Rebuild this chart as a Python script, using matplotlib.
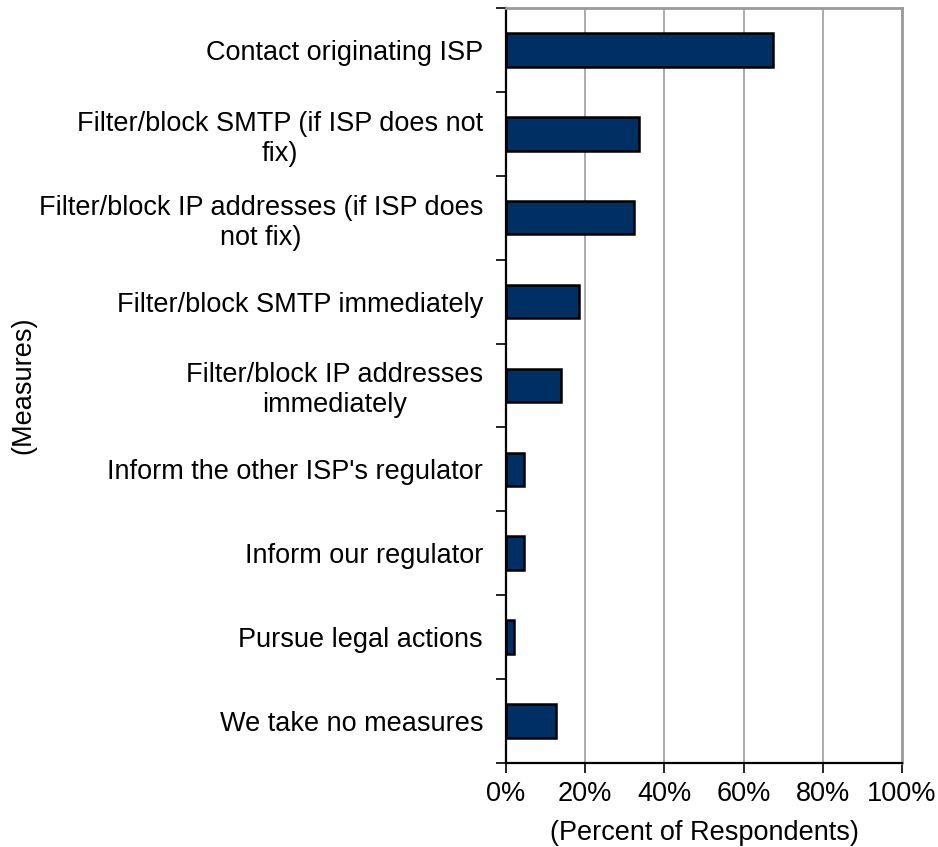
import numpy as np
import matplotlib
matplotlib.use("Agg")
from matplotlib import pyplot as plt
from matplotlib.ticker import FixedLocator

measures = [
    "Contact originating ISP",
    "Filter/block SMTP (if ISP does not\nfix)",
    "Filter/block IP addresses (if ISP does\nnot fix)",
    "Filter/block SMTP immediately",
    "Filter/block IP addresses\nimmediately",
    "Inform the other ISP's regulator",
    "Inform our regulator",
    "Pursue legal actions",
    "We take no measures",
]
percent = [67.4, 33.5, 32.3, 18.5, 13.8, 4.5, 4.6, 2.1, 12.7]
xticks = [0, 20, 40, 60, 80, 100]
xtick_labels = ["0%", "20%", "40%", "60%", "80%", "100%"]

BAR_COLOR = "#003063"
GRID_COLOR = "#a6a6a6"
FS = 19.5

plt.rcParams["font.family"] = ["Liberation Sans", "DejaVu Sans"]

fig = plt.figure(figsize=(9.38, 8.47), dpi=100)
ax = fig.add_axes([0.5394, 0.0992, 0.4222, 0.8914])

pos = np.arange(len(measures))
ax.barh(pos, percent, height=0.4, color=BAR_COLOR, edgecolor="black", linewidth=1.8, zorder=3)

ax.set_xlim(0, 100)
ax.set_ylim(len(measures) - 0.5, -0.5)

ax.set_xticks(xticks)
ax.set_xticklabels(xtick_labels, fontsize=FS)
ax.xaxis.grid(True, color=GRID_COLOR, linewidth=1.3, zorder=0)
ax.tick_params(axis="x", length=7, width=1.2, pad=6, direction="out")

ax.set_yticks(pos)
ax.set_yticklabels(measures, fontsize=FS, multialignment="center", linespacing=1.2)
ax.yaxis.set_minor_locator(FixedLocator(np.arange(len(measures) + 1) - 0.5))
ax.tick_params(axis="y", which="major", length=0, pad=16.5)
ax.tick_params(axis="y", which="minor", length=7, width=1.2, direction="out")

for side in ("top", "right"):
    ax.spines[side].set_color("#9a9a9a")
    ax.spines[side].set_linewidth(2)
ax.spines["left"].set_color("black")
ax.spines["left"].set_linewidth(1.6)
ax.spines["bottom"].set_color("black")
ax.spines["bottom"].set_linewidth(1.6)

ax.set_xlabel("(Percent of Respondents)", fontsize=FS, labelpad=9)
ax.set_ylabel("(Measures)", fontsize=FS)
ax.yaxis.set_label_coords(-1.185, 0.5)

fig.savefig("out.png", dpi=100)
